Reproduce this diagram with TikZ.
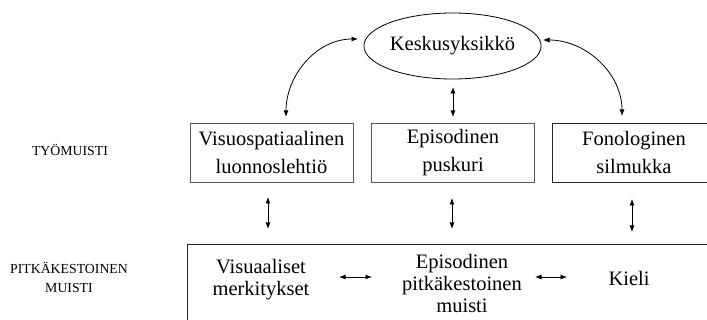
\documentclass[tikz,border=0pt]{standalone}
\usepackage{fontspec}
\setmainfont{Liberation Serif}
\usetikzlibrary{shapes.geometric,arrows.meta}

\begin{document}
\begin{tikzpicture}[x=1pt,y=-1pt,
box/.style={draw=black!65, line width=0.9pt, minimum width=163, minimum height=59,
  inner sep=0pt, align=center, font=\fontsize{20.5}{28}\selectfont},
txt/.style={align=center, inner sep=0pt, font=\fontsize{20.5}{22}\selectfont},
lbl/.style={align=center, inner sep=0pt, font=\fontsize{13.8}{19}\selectfont},
arr/.style={line width=0.8pt, {Latex[length=6.5pt,width=5pt]}-{Latex[length=6.5pt,width=5pt]}}]

\useasboundingbox (0,0) rectangle (707,320);
\clip (0,0) rectangle (707,320);

\node[draw, ellipse, line width=0.8pt, minimum width=161, minimum height=66, inner sep=0pt,
  font=\fontsize{20.5}{24}\selectfont] (keskus) at (452.5,46) {\raisebox{3pt}{Keskusyksikkö}};

\node[box] (vsl) at (271.5,152.5) {Visuospatiaalinen\\luonnoslehtiö};
\node[box] (epb) at (453,152.5) {Episodinen\\puskuri};
\node[box, draw=black!85] (fon) at (634,152.5) {Fonologinen\\silmukka};

\draw[black!85, line width=0.9pt] (187,244) rectangle (720,340);
\node[txt] (vis) at (261,280) {Visuaaliset\\merkitykset};
\node[txt] (epl) at (462,283) {Episodinen\\pitkäkestoinen\\muisti};
\node[txt] (kieli) at (629,278) {Kieli};

\node[lbl] (tyo) at (70,150) {TYÖMUISTI};
\node[lbl] (pitka) at (69,277) {PITKÄKESTOINEN\\MUISTI};

% arrow ends
\coordinate (cL1) at (358,39);
\coordinate (cL2) at (286,117);
\coordinate (cR1) at (543,40);
\coordinate (cR2) at (622,116);
\coordinate (h1) at (339,277);
\coordinate (h2) at (372,277);
\coordinate (h3) at (535,277);
\coordinate (h4) at (567,277);

\draw[arr] (cL1) to[out=180,in=90] (cL2);
\draw[arr] (cR1) to[out=0,in=90] (cR2);
\draw[arr] (h1) -- (h2);
\draw[arr] (h3) -- (h4);

\foreach \x/\ya/\yb in
{ 453/87/117,
  268/197/229,
  452/198/229,
  632/199/232
}
{
    \draw[arr] (\x,\ya) -- (\x,\yb);
};

\end{tikzpicture}
\end{document}
